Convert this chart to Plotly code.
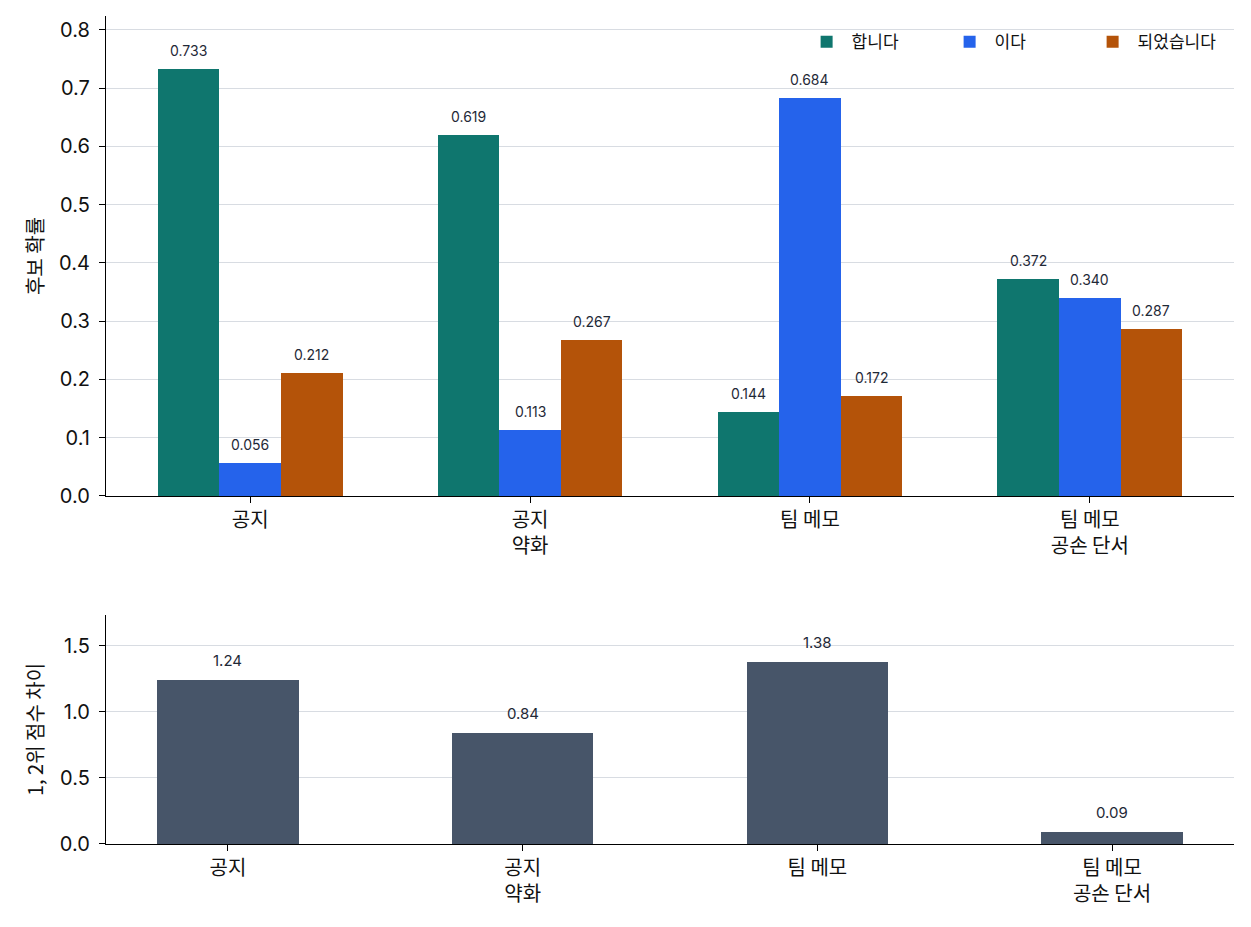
import plotly.graph_objects as go

categories = ["공지", "공지<br>약화", "팀 메모", "팀 메모<br>공손 단서"]
series_names = ["합니다", "이다", "되었습니다"]
probs = {
    "합니다": [0.733, 0.619, 0.144, 0.372],
    "이다": [0.056, 0.113, 0.684, 0.340],
    "되었습니다": [0.212, 0.267, 0.172, 0.287],
}
gap_values = [1.24, 0.84, 1.38, 0.09]
colors = {"합니다": "#0f766e", "이다": "#2563eb", "되었습니다": "#b45309"}
gap_color = "#475569"

KFONT = "Noto Sans CJK KR"
NFONT = "Inter, Noto Sans CJK KR"
bw = 0.22
fig = go.Figure()
annotations = []
for j, name in enumerate(series_names):
    xs = [i + (j - 1) * bw for i in range(len(categories))]
    fig.add_trace(go.Bar(x=xs, y=probs[name], width=bw, name=name,
                         marker=dict(color=colors[name], line=dict(width=0)),
                         xaxis="x", yaxis="y"))
    for x, v in zip(xs, probs[name]):
        annotations.append(dict(x=x, y=v, xref="x", yref="y", text=f"{v:.3f}",
                                showarrow=False, yanchor="bottom", yshift=8,
                                font=dict(size=14, color="#1f2937", family=NFONT)))

xs2 = list(range(len(categories)))
fig.add_trace(go.Bar(x=xs2, y=gap_values, width=0.48, showlegend=False,
                     marker=dict(color=gap_color, line=dict(width=0)),
                     xaxis="x2", yaxis="y2"))
for x, v in zip(xs2, gap_values):
    annotations.append(dict(x=x, y=v, xref="x2", yref="y2", text=f"{v:.2f}",
                            showarrow=False, yanchor="bottom", yshift=8,
                            font=dict(size=15, color="#1f2937", family=NFONT)))

line_common = dict(showline=True, linecolor="black", linewidth=1.3, ticks="outside",
                   ticklen=6, tickcolor="black", zeroline=False)
xtickfont = dict(size=20, color="#111", family=KFONT)
ytickfont = dict(size=20, color="#111", family=NFONT)
ytitlefont = dict(size=20, color="#111", family=KFONT)

fig.update_layout(
    width=1251, height=927,
    margin=dict(l=106, r=17, t=16, b=83),
    plot_bgcolor="white", paper_bgcolor="white",
    barmode="overlay",
    font=dict(family=KFONT, color="#111"),
    xaxis=dict(domain=[0, 1], range=[-0.515, 3.515], tickvals=xs2, ticktext=categories,
               anchor="y", showgrid=False, tickfont=xtickfont, **line_common),
    yaxis=dict(domain=[0.4203, 1], range=[0, 0.824], dtick=0.1, tickformat=".1f",
               showgrid=True, gridcolor="#d8dce2", gridwidth=1, anchor="x",
               tickfont=ytickfont, ticklabelstandoff=5,
               title=dict(text="후보 확률", font=ytitlefont, standoff=10),
               **line_common),
    xaxis2=dict(domain=[0, 1], range=[-0.414, 3.414], tickvals=xs2, ticktext=categories,
                anchor="y2", showgrid=False, tickfont=xtickfont, **line_common),
    yaxis2=dict(domain=[0, 0.2766], range=[0, 1.735], dtick=0.5, tickformat=".1f",
                showgrid=True, gridcolor="#d8dce2", gridwidth=1, anchor="x2",
                tickfont=ytickfont, ticklabelstandoff=5,
                title=dict(text="1, 2위 점수 차이", font=ytitlefont, standoff=10),
                **line_common),
    legend=dict(orientation="h", x=0.997, xanchor="right", y=0.99, yanchor="top",
                font=dict(size=17, family=KFONT, color="#111"), bgcolor="rgba(0,0,0,0)",
                itemwidth=40, entrywidth=88, tracegroupgap=0),
    annotations=annotations,
    bargap=0,
)
fig.write_html("out.html")
